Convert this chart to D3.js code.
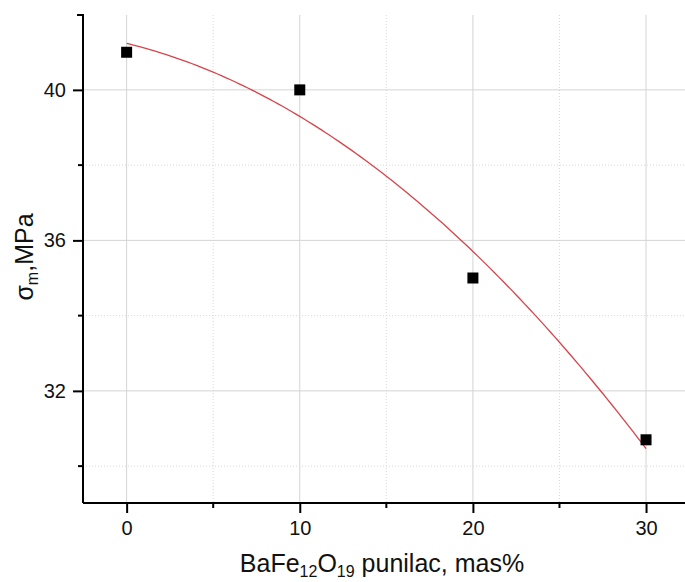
<!DOCTYPE html>
<html>
<head>
<meta charset="utf-8">
<script src="https://cdn.jsdelivr.net/npm/d3@7"></script>
<style>
  html, body { margin: 0; padding: 0; background: #fff; }
  svg { display: block; font-family: "Liberation Sans", Arial, sans-serif; }
</style>
</head>
<body>
<svg id="chart" width="685" height="582"></svg>
<script>
// Measured tensile strength vs. BaFe12O19 content
const content = [0, 10, 20, 30];          // mas%
const strength = [41, 40, 35, 30.7];      // MPa

const xMajorTicks = [0, 10, 20, 30];
const xMinorTicks = [5, 15, 25];
const yMajorTicks = [32, 36, 40];
const yMinorTicks = [30, 34, 38];

const plotLeft = 83, plotTop = 15, plotBottom = 503, plotRight = 685;

const x = d3.scaleLinear().domain([-2.52, 32.25]).range([plotLeft, plotRight]);
const y = d3.scaleLinear().domain([29.02, 41.99]).range([plotBottom, plotTop]);

const svg = d3.select("#chart");

// grid: solid at major ticks, dotted at minor ticks
const grid = svg.append("g");
grid.selectAll(".vmaj").data(xMajorTicks).join("line")
  .attr("x1", d => x(d)).attr("x2", d => x(d))
  .attr("y1", plotTop).attr("y2", plotBottom)
  .attr("stroke", "#d4d4d4").attr("stroke-width", 1);
grid.selectAll(".vmin").data(xMinorTicks).join("line")
  .attr("x1", d => x(d)).attr("x2", d => x(d))
  .attr("y1", plotTop).attr("y2", plotBottom)
  .attr("stroke", "#d8d8d8").attr("stroke-width", 1).attr("stroke-dasharray", "1,2");
grid.selectAll(".hmaj").data(yMajorTicks).join("line")
  .attr("x1", plotLeft).attr("x2", plotRight)
  .attr("y1", d => y(d)).attr("y2", d => y(d))
  .attr("stroke", "#d4d4d4").attr("stroke-width", 1);
grid.selectAll(".hmin").data(yMinorTicks).join("line")
  .attr("x1", plotLeft).attr("x2", plotRight)
  .attr("y1", d => y(d)).attr("y2", d => y(d))
  .attr("stroke", "#d8d8d8").attr("stroke-width", 1).attr("stroke-dasharray", "1,2");

// second-order least-squares fit of the measurements
function polyFit2(xs, ys) {
  let s = [0, 0, 0, 0, 0], t = [0, 0, 0];
  xs.forEach((xv, i) => {
    for (let k = 0; k < 5; k++) s[k] += Math.pow(xv, k);
    for (let k = 0; k < 3; k++) t[k] += Math.pow(xv, k) * ys[i];
  });
  const A = [[s[0], s[1], s[2], t[0]], [s[1], s[2], s[3], t[1]], [s[2], s[3], s[4], t[2]]];
  for (let i = 0; i < 3; i++) {
    for (let j = i + 1; j < 3; j++) {
      const f = A[j][i] / A[i][i];
      for (let k = i; k < 4; k++) A[j][k] -= f * A[i][k];
    }
  }
  const c = [0, 0, 0];
  for (let i = 2; i >= 0; i--) {
    let v = A[i][3];
    for (let k = i + 1; k < 3; k++) v -= A[i][k] * c[k];
    c[i] = v / A[i][i];
  }
  return xv => c[0] + c[1] * xv + c[2] * xv * xv;
}
const fit = polyFit2(content, strength);
const fitXs = d3.range(0, 30.0001, 0.25);
svg.append("path")
  .datum(fitXs)
  .attr("fill", "none")
  .attr("stroke", "#d9434a")
  .attr("stroke-width", 1.3)
  .attr("d", d3.line().x(d => x(d)).y(d => y(fit(d))));

// data markers
const sz = 11;
svg.append("g").selectAll("rect").data(content).join("rect")
  .attr("x", (d) => x(d) - sz / 2)
  .attr("y", (d, i) => y(strength[i]) - sz / 2)
  .attr("width", sz).attr("height", sz)
  .attr("fill", "#000");

// axes
const xAxis = svg.append("g").attr("transform", `translate(0,${plotBottom})`)
  .call(d3.axisBottom(x).tickValues(xMajorTicks).tickSize(10).tickPadding(8).tickFormat(d3.format("d")));
xAxis.append("g").selectAll("line").data(xMinorTicks).join("line")
  .attr("x1", d => x(d)).attr("x2", d => x(d)).attr("y1", 0).attr("y2", 5)
  .attr("stroke", "#000").attr("stroke-width", 2);

const yAxis = svg.append("g").attr("transform", `translate(${plotLeft},0)`)
  .call(d3.axisLeft(y).tickValues(yMajorTicks).tickSize(10).tickPadding(7).tickFormat(d3.format("d")));
yAxis.append("g").selectAll("line").data(yMinorTicks).join("line")
  .attr("x1", 0).attr("x2", -5).attr("y1", d => y(d)).attr("y2", d => y(d))
  .attr("stroke", "#000").attr("stroke-width", 2);

[xAxis, yAxis].forEach(a => {
  a.select(".domain").attr("stroke", "#000").attr("stroke-width", 2);
  a.selectAll(".tick line").attr("stroke", "#000").attr("stroke-width", 2);
  a.selectAll(".tick text").attr("font-size", 20).attr("fill", "#111")
    .attr("font-family", "'Liberation Sans', Arial, sans-serif");
});
// the x axis spans the whole width without an end tick
xAxis.select(".domain").attr("d", `M${plotLeft},0H${plotRight}`);
yAxis.select(".domain").attr("d", `M-6,${plotTop}H0V${plotBottom}`);

// axis titles
const xt = svg.append("text")
  .attr("x", 382).attr("y", 572)
  .attr("text-anchor", "middle")
  .attr("font-size", 25).attr("fill", "#111");
xt.append("tspan").text("BaFe");
xt.append("tspan").attr("font-size", 16).attr("dy", 5).text("12");
xt.append("tspan").attr("dy", -5).text("O");
xt.append("tspan").attr("font-size", 16).attr("dy", 5).text("19");
xt.append("tspan").attr("dy", -5).text(" punilac, mas%");

const yt = svg.append("text")
  .attr("transform", "translate(33,257) rotate(-90)")
  .attr("text-anchor", "middle")
  .attr("font-size", 25).attr("fill", "#111");
yt.append("tspan").text("σ");
yt.append("tspan").attr("font-size", 16).attr("dy", 5).text("m");
yt.append("tspan").attr("dy", -5).text(",MPa");
</script>
</body>
</html>
